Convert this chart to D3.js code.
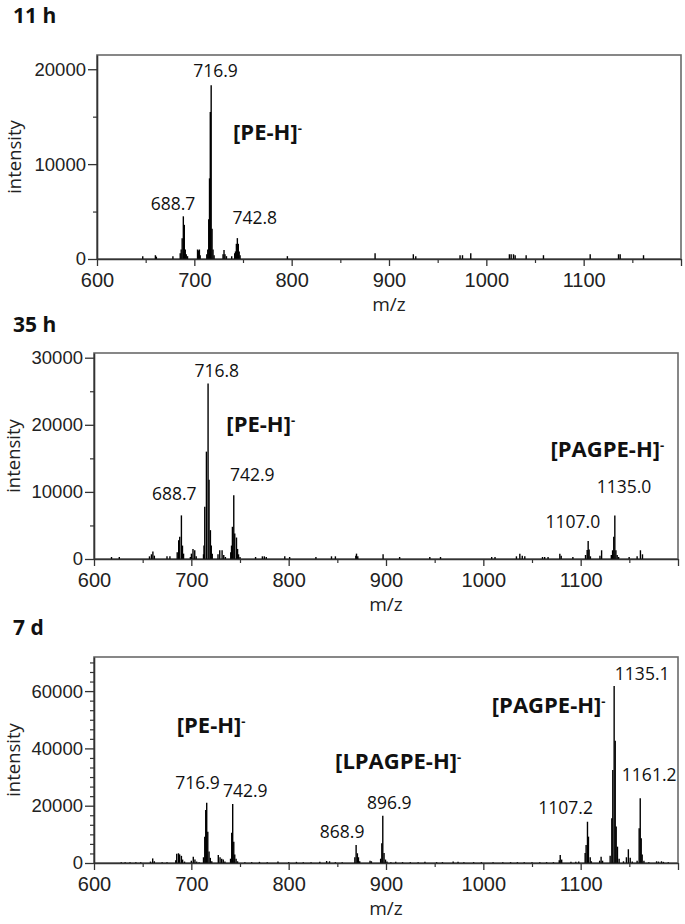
<!DOCTYPE html>
<html>
<head>
<meta charset="utf-8">
<script src="https://cdn.jsdelivr.net/npm/d3@7"></script>
<style>
  body { margin: 0; background: #fff; }
  svg { display: block; font-family: "Open Sans", "DejaVu Sans", sans-serif; }
  .tick text { fill: #222; }
</style>
</head>
<body>
<div id="chart"></div>
<script>
// ---- data (m/z, intensity) ----
let titles = ["11 h", "35 h", "7 d"];
let xMajorTicks = [600, 700, 800, 900, 1000, 1100, 1200];
let xMinorTicks = [650, 750, 850, 950, 1050, 1150];
let yMaxes = [21500, 30700, 71900];
let yMajorTicks = [[0, 10000, 20000], [0, 10000, 20000, 30000], [0, 20000, 40000, 60000]];
let yMinorTicks = [
    [5000, 15000],
    [5000, 15000, 25000],
    [3333, 6667, 10000, 13333, 16667, 23333, 26667, 30000, 33333, 36667,
     43333, 46667, 50000, 53333, 56667, 63333, 66667, 70000]
];

let peaks_11h = [
    [647, 300], [660, 400], [661, 250], [678, 300],
    [685.5, 600], [686.5, 1000], [687.5, 2200], [688.7, 4500], [689.7, 3600], [690.7, 1000], [691.7, 500], [693, 300],
    [703.3, 1000], [704.2, 900], [705.2, 1000], [706, 400],
    [712.8, 500], [713.8, 1000], [714.8, 4200], [715.6, 8500], [716.4, 15500], [717.3, 18300], [718.2, 3200], [719.2, 1000], [720.3, 400],
    [729.5, 500], [730.5, 950], [731.5, 500], [733, 300], [738.4, 300],
    [741.5, 600], [742.3, 800], [743.2, 1600], [744.2, 2200], [745.2, 1600], [746.1, 800], [747, 400],
    [795.6, 300], [885.7, 600], [925, 500], [927.5, 300], [973, 400], [975.5, 400], [984, 600],
    [1023.7, 500], [1025.5, 500], [1027.9, 500], [1029.6, 400], [1040.9, 400], [1058.7, 400],
    [1106.7, 500], [1135.8, 500], [1137.5, 500], [1161.5, 400]
];

let peaks_35h = [
    [618, 300], [626, 300], [657, 400], [659, 700], [660.5, 1100], [662, 500], [675, 400], [678, 400],
    [685.5, 1000], [687, 2800], [688.1, 3300], [689.8, 6500], [690.9, 2000], [692, 800],
    [699, 300], [700.1, 800], [701.7, 1500], [703.5, 1300], [705, 400],
    [712.5, 700], [713, 2000], [713.8, 7800], [715.5, 16000], [717.2, 26150], [718.2, 11800], [719.6, 4300], [720.5, 2000], [721.5, 800],
    [727.4, 700], [729.2, 1300], [731.6, 1300], [733.3, 600], [735, 300],
    [740.5, 1000], [741.3, 2000], [742.2, 4800], [743.6, 9500], [744.6, 3800], [746.4, 3200], [747.5, 1500], [748.5, 700], [750, 300],
    [766, 300], [773, 400], [775, 400], [777, 300], [796, 400], [801, 300], [828, 300], [844, 400], [848, 400],
    [869, 500], [869.7, 800], [871, 400], [897, 700], [914, 300], [945, 300], [956, 300],
    [1008.6, 300], [1012, 300], [1034, 400], [1037.5, 800], [1040, 500], [1042.6, 400],
    [1060.8, 300], [1063, 300], [1066.5, 300], [1078.6, 800], [1080, 500], [1092, 300],
    [1105, 600], [1106.7, 1350], [1107.7, 2700], [1108.7, 1400], [1110, 400],
    [1119.8, 500], [1121.5, 1300],
    [1131.5, 600], [1132.8, 1300], [1134, 3300], [1135.1, 6500], [1136.2, 1300], [1137.5, 600], [1139, 300],
    [1149.8, 300], [1158, 400], [1161.4, 1300], [1163.5, 700]
];

let peaks_7d = [
    [628, 300], [632, 300], [637, 300], [643, 300], [648, 300], [658, 500], [660.3, 1600], [662, 600], [670, 300], [675, 300],
    [684, 1000], [685, 3200], [686.8, 3400], [688, 3000], [689.8, 2500], [691, 1200], [693, 500],
    [700, 800], [702, 2200], [703.7, 1200], [705.5, 500], [708, 300],
    [712.5, 2000], [713.8, 9200], [714.8, 18500], [715.8, 21000], [716.9, 10900], [718.2, 4000], [719.5, 1800], [721, 600],
    [727.7, 2800], [729.5, 2000], [731.2, 1500], [732.8, 1200], [734.5, 500],
    [740.3, 1500], [741.5, 10600], [742.5, 20600], [743.6, 7400], [744.6, 3000], [746, 1500], [747.5, 600],
    [755, 300], [762, 300], [770, 400], [778, 300], [789, 500], [800, 300], [808, 400], [815, 300], [823, 300],
    [832, 400], [839, 700], [842, 600], [848, 300], [855, 300],
    [868, 2000], [869.3, 6300], [870.6, 3400], [871.7, 2000], [873, 600],
    [883.6, 800], [885, 600],
    [894.5, 1500], [895.7, 6900], [896.7, 16500], [898, 3500], [899.5, 1200], [901, 500],
    [905, 300], [910, 400], [917, 300], [925, 300], [933, 300], [940, 400], [952, 300], [958, 300], [969, 500], [974, 400],
    [980, 300], [990, 300], [998, 300], [1010, 300], [1020, 300], [1028, 300], [1035, 300], [1042, 300], [1050, 300],
    [1058, 300], [1065, 300], [1072, 300],
    [1078, 1000], [1079, 2800], [1080.5, 1200], [1090, 400], [1095, 400], [1098, 500],
    [1104.6, 3500], [1105.6, 6300], [1107, 14400], [1108, 9200], [1109.8, 2000], [1111, 600],
    [1119.5, 800], [1121, 2200], [1122.5, 800],
    [1130.3, 2500], [1132, 15600], [1133, 32500], [1134.4, 61800], [1135.5, 42700], [1136.5, 12700], [1137.8, 5700], [1139.5, 1500],
    [1144, 600], [1147, 2000], [1149, 4800], [1150.9, 1800], [1153, 500],
    [1158, 800], [1160.1, 12100], [1161.2, 22600], [1162.2, 8600], [1163.2, 3000], [1165, 800],
    [1170, 300], [1178, 600], [1180, 500], [1183, 600], [1185, 400], [1190, 300]
];

// peak labels: text, m/z and intensity where the label sits
let labels_11h = [
    {text: "716.9", mz: 721.8, y: 19160},
    {text: "688.7", mz: 678.1, y: 5160},
    {text: "742.8", mz: 762.1, y: 3680}
];
let labels_35h = [
    {text: "716.8", mz: 726.1, y: 27130},
    {text: "688.7", mz: 682.4, y: 8780},
    {text: "742.9", mz: 762.6, y: 11600},
    {text: "1107.0", mz: 1092, y: 4570},
    {text: "1135.0", mz: 1144.6, y: 9870}
];
let labels_7d = [
    {text: "716.9", mz: 706.4, y: 25830},
    {text: "742.9", mz: 755.4, y: 23140},
    {text: "868.9", mz: 854.9, y: 8840},
    {text: "896.9", mz: 903.4, y: 18850},
    {text: "1107.2", mz: 1084.6, y: 17100},
    {text: "1135.1", mz: 1163.2, y: 63870},
    {text: "1161.2", mz: 1170.4, y: 28620}
];
// ion assignments (bold), left-anchored
let ions_11h = [{text: "[PE-H]", mz: 739.8, y: 12500}];
let ions_35h = [{text: "[PE-H]", mz: 736, y: 18940}, {text: "[PAGPE-H]", mz: 1069, y: 15220}];
let ions_7d = [
    {text: "[PE-H]", mz: 685, y: 45480},
    {text: "[LPAGPE-H]", mz: 847.7, y: 32700},
    {text: "[PAGPE-H]", mz: 1008.7, y: 52250}
];

let allPeaks = [peaks_11h, peaks_35h, peaks_7d];
let allLabels = [labels_11h, labels_35h, labels_7d];
let allIons = [ions_11h, ions_35h, ions_7d];

// ---- layout ----
let width = 685, height = 924;
let boxes = [
    {left: 97, right: 681, top: 55, bottom: 259, titleY: 23, yTitleX: 21},
    {left: 94, right: 678, top: 353, bottom: 559, titleY: 332, yTitleX: 20},
    {left: 94, right: 678, top: 657, bottom: 863, titleY: 635, yTitleX: 20}
];

let svg = d3.select("#chart").append("svg")
    .attr("width", width)
    .attr("height", height);

for (let p = 0; p < 3; p++) {
    let b = boxes[p];

    let xScale = d3.scaleLinear().domain([600, 1200]).range([b.left, b.right]);
    let yScale = d3.scaleLinear().domain([0, yMaxes[p]]).range([b.bottom, b.top]);

    // title
    svg.append("text")
        .attr("x", 13)
        .attr("y", b.titleY)
        .attr("font-size", "21px")
        .attr("font-weight", "bold")
        .attr("fill", "#111")
        .text(titles[p]);

    // frame
    svg.append("rect")
        .attr("x", b.left)
        .attr("y", b.top)
        .attr("width", b.right - b.left)
        .attr("height", b.bottom - b.top)
        .attr("fill", "none")
        .attr("stroke", "#6a6a6a")
        .attr("stroke-width", 1.6);

    // spectrum sticks
    svg.append("g")
        .selectAll("line")
        .data(allPeaks[p])
        .enter()
        .append("line")
        .attr("x1", d => xScale(d[0]))
        .attr("x2", d => xScale(d[0]))
        .attr("y1", yScale(0))
        .attr("y2", d => yScale(d[1]))
        .attr("stroke", "#000")
        .attr("stroke-width", 1.4);

    // x axis
    let xAxis = svg.append("g")
        .attr("transform", "translate(0," + b.bottom + ")");
    xAxis.call(d3.axisBottom(xScale)
        .tickValues(xMajorTicks)
        .tickSize(7)
        .tickSizeOuter(0)
        .tickPadding(7)
        .tickFormat(d => d < 1200 ? d : ""));
    xAxis.selectAll("text").attr("font-size", "20px").attr("font-family", null);
    xAxis.select(".domain").attr("stroke", "#333").attr("stroke-width", 1.6);
    xAxis.selectAll(".tick line").attr("stroke", "#333").attr("stroke-width", 1.3);

    svg.append("g")
        .attr("transform", "translate(0," + b.bottom + ")")
        .call(d3.axisBottom(xScale).tickValues(xMinorTicks).tickSize(4).tickFormat(""))
        .call(g => g.select(".domain").remove())
        .selectAll(".tick line").attr("stroke", "#333").attr("stroke-width", 1.2);

    // y axis
    let yAxis = svg.append("g")
        .attr("transform", "translate(" + b.left + ",0)");
    yAxis.call(d3.axisLeft(yScale)
        .tickValues(yMajorTicks[p])
        .tickSize(9)
        .tickSizeOuter(0)
        .tickPadding(2)
        .tickFormat(d3.format("d")));
    yAxis.selectAll("text").attr("font-size", "18.5px").attr("font-family", null);
    yAxis.select(".domain").attr("stroke", "#333").attr("stroke-width", 1.6);
    yAxis.selectAll(".tick line").attr("stroke", "#333").attr("stroke-width", 1.3);

    svg.append("g")
        .attr("transform", "translate(" + b.left + ",0)")
        .call(d3.axisLeft(yScale).tickValues(yMinorTicks[p]).tickSize(4).tickFormat(""))
        .call(g => g.select(".domain").remove())
        .selectAll(".tick line").attr("stroke", "#333").attr("stroke-width", 1.2);

    // axis titles
    svg.append("text")
        .attr("transform", "translate(" + b.yTitleX + "," + ((b.top + b.bottom) / 2) + ") rotate(-90)")
        .attr("text-anchor", "middle")
        .attr("font-size", "18.5px")
        .attr("fill", "#222")
        .text("intensity");

    svg.append("text")
        .attr("x", (b.left + b.right) / 2)
        .attr("y", b.bottom + 52)
        .attr("text-anchor", "middle")
        .attr("font-size", "19px")
        .attr("fill", "#222")
        .text("m/z");

    // peak labels
    svg.append("g")
        .selectAll("text")
        .data(allLabels[p])
        .enter()
        .append("text")
        .attr("x", d => xScale(d.mz))
        .attr("y", d => yScale(d.y))
        .attr("text-anchor", "middle")
        .attr("font-size", "17.5px")
        .attr("fill", "#111")
        .text(d => d.text);

    // ion labels with superscript minus
    let ions = svg.append("g")
        .selectAll("text")
        .data(allIons[p])
        .enter()
        .append("text")
        .attr("x", d => xScale(d.mz))
        .attr("y", d => yScale(d.y))
        .attr("font-size", "22px")
        .attr("font-weight", "bold")
        .attr("fill", "#111");
    ions.append("tspan").text(d => d.text);
    ions.append("tspan")
        .attr("dy", "-0.55em")
        .attr("font-size", "13px")
        .text("-");
}
</script>
</body>
</html>
